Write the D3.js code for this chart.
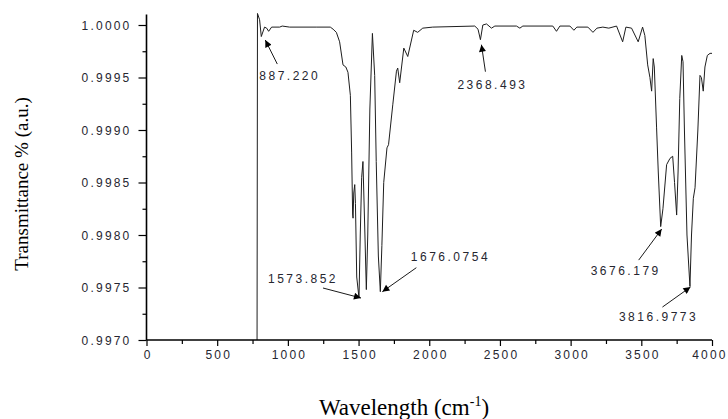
<!DOCTYPE html>
<html>
<head>
<meta charset="utf-8">
<script src="https://cdn.jsdelivr.net/npm/d3@7/dist/d3.min.js"></script>
<style>
  html, body { margin: 0; padding: 0; background: #fff; }
  svg { display: block; }
  .tick text { font-family: "Liberation Sans", Arial, sans-serif; font-size: 12px; fill: #262630; letter-spacing: 2.2px; }
  .peak-label { font-family: "Liberation Sans", Arial, sans-serif; font-size: 12px; fill: #262630; letter-spacing: 2.5px; }
  .axis-title { font-family: "Liberation Serif", "Times New Roman", serif; fill: #000; }
</style>
</head>
<body>
<svg id="chart" width="728" height="419"></svg>
<script>
// FTIR spectrum: wavenumber (cm-1) against normalised transmittance
const wavenumber = [
  782, 785, 800, 812, 835, 850, 864, 885, 942, 960, 1012, 1100, 1200, 1300,
  1320, 1343, 1366, 1390, 1410, 1425, 1442, 1451, 1458, 1461, 1466, 1473, 1478,
  1487, 1503, 1512, 1522, 1531, 1545, 1555, 1565, 1580, 1598, 1614, 1625, 1640,
  1654, 1665, 1678, 1701, 1712, 1742, 1768, 1777, 1791, 1820, 1848, 1890, 1918,
  1954, 2025, 2322, 2345, 2362, 2379, 2405, 2440, 2464, 2617, 2641, 2662, 2874,
  2900, 2924, 2995, 3023, 3044, 3122, 3158, 3186, 3228, 3270, 3325, 3368, 3391,
  3431, 3478, 3509, 3525, 3545, 3561, 3573, 3584, 3592, 3608, 3620, 3637, 3653,
  3679, 3703, 3722, 3735, 3750, 3760, 3772, 3786, 3795, 3805, 3823, 3844, 3855,
  3868, 3880, 3900, 3915, 3925, 3938, 3950, 3967, 3986, 4000
];
const transmittance = [
  0.99700, 1.00011, 1.00005, 0.99989, 0.99998, 0.99997, 0.99994, 0.99998, 0.99998, 0.99999, 0.99998, 0.99998, 0.99998, 0.99998,
  0.99996, 0.99993, 0.99984, 0.99962, 0.99960, 0.99955, 0.99933, 0.99879, 0.99820, 0.99816, 0.99840, 0.99848, 0.99830,
  0.99760, 0.99740, 0.99800, 0.99855, 0.99870, 0.99800, 0.99748, 0.99800, 0.99920, 0.99992, 0.99952, 0.99870, 0.99780,
  0.99746, 0.99790, 0.99850, 0.99883, 0.99886, 0.99924, 0.99956, 0.99959, 0.99945, 0.99978, 0.99970, 0.99995, 0.99993,
  0.99997, 0.99998, 0.99999, 0.99996, 0.99986, 1.00000, 1.00001, 0.99997, 0.99999, 0.99999, 0.99997, 0.99999, 0.99999,
  0.99994, 0.99999, 0.99999, 0.99995, 0.99998, 0.99998, 0.99993, 0.99997, 0.99998, 0.99997, 0.99999, 0.99984, 0.99998,
  0.99997, 0.99984, 0.99998, 0.99990, 0.99962, 0.99950, 0.99937, 0.99968, 0.99960, 0.99902, 0.99860, 0.99808, 0.99825,
  0.99867, 0.99873, 0.99875, 0.99850, 0.99819, 0.99860, 0.99930, 0.99971, 0.99965, 0.99900, 0.99800, 0.99751, 0.99800,
  0.99835, 0.99845, 0.99900, 0.99952, 0.99950, 0.99937, 0.99960, 0.99971, 0.99973, 0.99973
];

// Annotated bands: printed text and the wavenumber of the point each arrow marks
const peakLabels = ["887.220", "2368.493", "1573.852", "1676.0754", "3676.179", "3816.9773"];
const peakWavenumbers = [812, 2362, 1503, 1654, 3637, 3844];

// Axis ticks
const xTicks = [0, 500, 1000, 1500, 2000, 2500, 3000, 3500, 4000];
const xMinorTicks = [250, 750, 1250, 1750, 2250, 2750, 3250, 3750];
const yTicks = [0.9970, 0.9975, 0.9980, 0.9985, 0.9990, 0.9995, 1.0000];
const yMinorTicks = [0.99725, 0.99775, 0.99825, 0.99875, 0.99925, 0.99975];

const svg = d3.select("#chart");

const x = d3.scaleLinear().domain([0, 4000]).range([146.5, 712]);
const y = d3.scaleLinear().domain([0.9970, 1.0001]).range([340, 14.5]);

// Arrowhead for the band annotations
svg.append("defs").append("marker")
  .attr("id", "arrowhead")
  .attr("viewBox", "0 0 10 10")
  .attr("refX", 10).attr("refY", 5)
  .attr("markerWidth", 9).attr("markerHeight", 7)
  .attr("markerUnits", "userSpaceOnUse")
  .attr("orient", "auto")
  .append("path")
  .attr("d", "M0,0 L10,5 L0,10 Z")
  .attr("fill", "#000");

// Spectrum trace
const points = wavenumber.map((w, i) => [w, transmittance[i]]);
svg.append("path")
  .datum(points)
  .attr("fill", "none")
  .attr("stroke", "#1e1e1e")
  .attr("stroke-width", 1)
  .attr("stroke-linejoin", "miter")
  .attr("d", d3.line().x(d => x(d[0])).y(d => y(d[1])));

// Y axis: major ticks with labels, minor ticks without
const yAxisG = svg.append("g").attr("transform", `translate(${x(0)},0)`);
yAxisG.call(d3.axisLeft(y).tickValues(yTicks).tickSize(8).tickSizeOuter(0)
  .tickPadding(7).tickFormat(d3.format(".4f")));
yAxisG.select(".domain").remove();
yAxisG.selectAll(".tick line").attr("stroke", "#000").attr("stroke-width", 1.2);
yAxisG.selectAll(".tick text").attr("fill", "#262630").attr("dy", "0.36em");
const yMinorG = svg.append("g").attr("transform", `translate(${x(0)},0)`);
yMinorG.call(d3.axisLeft(y).tickValues(yMinorTicks).tickSize(4).tickFormat(""));
yMinorG.select(".domain").remove();
yMinorG.selectAll(".tick line").attr("stroke", "#000").attr("stroke-width", 1.2);

// X axis (the last label is nudged inwards so it stays inside the frame)
const xAxisG = svg.append("g").attr("transform", `translate(0,${y(0.9970)})`);
xAxisG.call(d3.axisBottom(x).tickValues(xTicks).tickSize(6).tickSizeOuter(0)
  .tickPadding(4).tickFormat(d3.format("d")));
xAxisG.select(".domain").remove();
xAxisG.selectAll(".tick line").attr("stroke", "#000").attr("stroke-width", 1.2);
xAxisG.selectAll(".tick text").attr("fill", "#262630")
  .attr("dx", d => d === 4000 ? "-2.5px" : "1.1px");
const xMinorG = svg.append("g").attr("transform", `translate(0,${y(0.9970)})`);
xMinorG.call(d3.axisBottom(x).tickValues(xMinorTicks).tickSize(4).tickFormat(""));
xMinorG.select(".domain").remove();
xMinorG.selectAll(".tick line").attr("stroke", "#000").attr("stroke-width", 1.2);

// Axis lines
svg.append("line")
  .attr("x1", x(0)).attr("x2", x(0))
  .attr("y1", y(1.0001)).attr("y2", y(0.9970))
  .attr("stroke", "#000").attr("stroke-width", 1.6);
svg.append("line")
  .attr("x1", x(0)).attr("x2", x(4000))
  .attr("y1", y(0.9970)).attr("y2", y(0.9970))
  .attr("stroke", "#000").attr("stroke-width", 1.6);

// Band annotations: offsets (px) of arrow tip, arrow tail and text from the marked point
const annotationLayout = [
  { tip: [4, 3.5],  tail: [16, 27.5],  text: [-2, 43] },
  { tip: [1, 5],    tail: [5, 32],     text: [-23, 49.5] },
  { tip: [2, 0],    tail: [-36, -10],  text: [-91, -15.5] },
  { tip: [2, 0],    tail: [36, -24],   text: [30.5, -31] },
  { tip: [1, 2.5],  tail: [-22, 33.5], text: [-70, 48] },
  { tip: [0.5, 0.6], tail: [-27.5, 20.6], text: [-71, 35] }
];

peakLabels.forEach((label, i) => {
  const idx = wavenumber.indexOf(peakWavenumbers[i]);
  const px = x(wavenumber[idx]);
  const py = y(transmittance[idx]);
  const L = annotationLayout[i];
  svg.append("line")
    .attr("x1", px + L.tail[0]).attr("y1", py + L.tail[1])
    .attr("x2", px + L.tip[0]).attr("y2", py + L.tip[1])
    .attr("stroke", "#000").attr("stroke-width", 0.9)
    .attr("marker-end", "url(#arrowhead)");
  svg.append("text")
    .attr("class", "peak-label")
    .attr("x", px + L.text[0]).attr("y", py + L.text[1])
    .text(label);
});

// Axis titles
svg.append("text")
  .attr("class", "axis-title")
  .attr("transform", "translate(28,184) rotate(-90)")
  .attr("text-anchor", "middle")
  .attr("font-size", 19)
  .text("Transmittance % (a.u.)");

const xt = svg.append("text")
  .attr("class", "axis-title")
  .attr("x", 404).attr("y", 415)
  .attr("text-anchor", "middle")
  .attr("font-size", 23);
xt.append("tspan").text("Wavelength (cm");
xt.append("tspan").attr("font-size", 14).attr("dy", -9).text("-1");
xt.append("tspan").attr("dy", 9).text(")");
</script>
</body>
</html>
